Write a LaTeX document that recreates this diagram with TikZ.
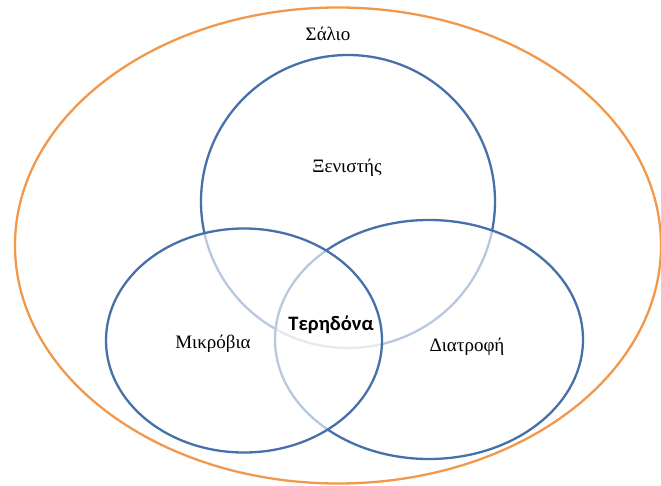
\documentclass[tikz,border=0pt]{standalone}
\usepackage{fontspec}
\setmainfont{Liberation Serif}
\newfontfamily\labelsans{Carlito}
\definecolor{vennblue}{HTML}{4670AA}
\definecolor{salivaorange}{HTML}{F2984C}
\begin{document}
\begin{tikzpicture}[x=1pt,y=-1pt,
  venn/.style={draw=vennblue,line width=2.3pt,fill=white,fill opacity=0.62},
  outer/.style={draw=salivaorange,line width=2.3pt},
  lbl/.style={font=\fontsize{19}{22}\selectfont,text=black,inner sep=0pt},
  core/.style={font=\labelsans\bfseries\fontsize{20.5}{24}\selectfont,text=black,inner sep=0pt}]
\useasboundingbox (0,0) rectangle (661,486);
\draw[outer] (338,245.5) ellipse [x radius=323, y radius=238];
\draw[venn] (348,201.5) ellipse [x radius=147, y radius=146.5];
\draw[venn] (429,339.5) ellipse [x radius=154, y radius=119.5];
\draw[venn] (244,340.5) ellipse [x radius=138, y radius=112];
\node[lbl] (saliva) at (328,34) {Σάλιο};
\node[lbl] (host) at (347,168) {Ξενιστής};
\node[lbl] (microbes) at (213,344) {Μικρόβια};
\node[lbl] (diet) at (467,347) {Διατροφή};
\node[core] (caries) at (331,325) {Τερηδόνα};
\end{tikzpicture}
\end{document}
